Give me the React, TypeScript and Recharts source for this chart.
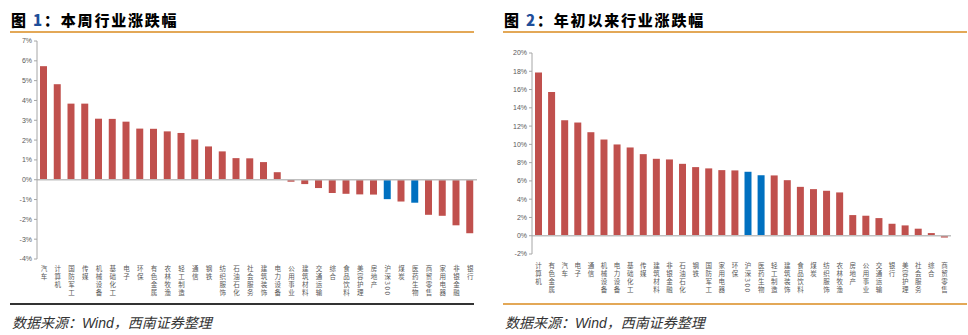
import React from 'react';
import { BarChart, Bar, XAxis, YAxis, Cell, ReferenceLine } from 'recharts';

const weekCategories = ['汽车','计算机','国防军工','传媒','机械设备','基础化工','电子','环保','有色金属','农林牧渔','轻工制造','通信','钢铁','纺织服饰','石油石化','社会服务','建筑装饰','电力设备','公用事业','建筑材料','交通运输','综合','食品饮料','美容护理','房地产','沪深300','煤炭','医药生物','商贸零售','家用电器','非银金融','银行'];
const weekValues = [5.73,4.82,3.84,3.84,3.08,3.07,2.93,2.58,2.57,2.44,2.36,2.03,1.68,1.43,1.09,1.08,0.89,0.38,-0.1,-0.22,-0.42,-0.67,-0.71,-0.74,-0.75,-0.98,-1.1,-1.16,-1.77,-1.82,-2.3,-2.7];
const weekTicks = [-4,-3,-2,-1,0,1,2,3,4,5,6,7];

const ytdCategories = ['计算机','有色金属','汽车','电子','通信','机械设备','电力设备','基础化工','传媒','建筑材料','非银金融','石油石化','钢铁','国防军工','家用电器','环保','沪深300','医药生物','轻工制造','建筑装饰','食品饮料','煤炭','纺织服饰','农林牧渔','房地产','公用事业','交通运输','银行','美容护理','社会服务','综合','商贸零售'];
const ytdValues = [17.86,15.74,12.64,12.39,11.33,10.53,9.99,9.66,8.93,8.42,8.35,7.87,7.51,7.37,7.18,7.15,7.0,6.62,6.6,6.08,5.35,5.1,4.92,4.74,2.26,2.19,1.93,1.31,1.13,0.77,0.29,-0.2];
const ytdTicks = [-2,0,2,4,6,8,10,12,14,16,18,20];

const highlighted = ['沪深300','医药生物'];

const RED = '#C0504D';
const BLUE = '#0070C0';
const ORANGE = '#E3A857';

const weekData = weekCategories.map((name, i) => ({ name, value: weekValues[i] }));
const ytdData = ytdCategories.map((name, i) => ({ name, value: ytdValues[i] }));

const makeTick = (offset: number) => (props: any) => {
  const { x, y, payload } = props;
  return (
    <text x={x} y={y + offset} fontSize={6.5} fill="#595959" letterSpacing={1.6}
      fontFamily="Noto Sans CJK SC, sans-serif"
      style={{ writingMode: 'vertical-rl' as any }}>{String(payload.value)}</text>
  );
};

const yTickStyle = { fontSize: 7, fill: '#595959', fontFamily: 'Liberation Sans, Arial, sans-serif' };

const titleStyle = (left: number): React.CSSProperties => ({
  position: 'absolute', left, top: 11, fontSize: 15, lineHeight: '18px', fontWeight: 900,
  fontFamily: '"Noto Sans CJK SC", sans-serif', letterSpacing: 1.8, color: '#000', whiteSpace: 'nowrap',
});

const footerStyle = (left: number): React.CSSProperties => ({
  position: 'absolute', left, top: 313, fontSize: 14, lineHeight: '18px', fontStyle: 'italic',
  fontFamily: '"Noto Sans CJK SC", sans-serif', color: '#333', whiteSpace: 'nowrap',
});

const Footer = ({ left }: { left: number }) => (
  <div style={footerStyle(left)}>
    数据来源：<span style={{ fontFamily: '"Liberation Sans", Arial, sans-serif' }}>Wind</span>，西南证券整理
  </div>
);

export default function App() {
  return (
    <div style={{ position: 'absolute', left: 0, top: 0, width: 968, height: 335, background: '#fff', overflow: 'hidden' }}>
      {/* Left chart */}
      <div style={titleStyle(11)}>图 <span style={{ color: '#1F4E99' }}>1</span>：本周行业涨跌幅</div>
      <div style={{ position: 'absolute', left: 10, top: 31, width: 464, height: 2, background: ORANGE }} />
      <div style={{ position: 'absolute', left: 0, top: 0 }}>
        <BarChart width={484} height={305} data={weekData} margin={{ top: 41, right: 7, bottom: 0, left: 7 }}>
          <YAxis type="number" domain={[-4, 7]} ticks={weekTicks} interval={0} width={30}
            tickFormatter={(v: number) => `${v}%`} tick={yTickStyle}
            axisLine={{ stroke: '#A6A6A6' }} tickLine={{ stroke: '#A6A6A6' }} tickSize={3} tickMargin={2} />
          <XAxis dataKey="name" interval={0} height={46} axisLine={false} tickLine={false}
            tickSize={0} tickMargin={0} tick={makeTick(6)} />
          <ReferenceLine y={0} stroke="#BFBFBF" strokeWidth={1.5} />
          <Bar dataKey="value" barSize={7} isAnimationActive={false}>
            {weekData.map((d, i) => (
              <Cell key={i} fill={highlighted.includes(d.name) ? BLUE : RED} />
            ))}
          </Bar>
        </BarChart>
      </div>
      <div style={{ position: 'absolute', left: 10, top: 303, width: 464, height: 2, background: '#333' }} />
      <Footer left={12} />

      {/* Right chart */}
      <div style={titleStyle(504)}>图 <span style={{ color: '#1F4E99' }}>2</span>：年初以来行业涨跌幅</div>
      <div style={{ position: 'absolute', left: 503, top: 31, width: 464, height: 2, background: ORANGE }} />
      <div style={{ position: 'absolute', left: 484, top: 0 }}>
        <BarChart width={484} height={305} data={ytdData} margin={{ top: 53, right: 17, bottom: 0, left: 18 }}>
          <YAxis type="number" domain={[-2, 20]} ticks={ytdTicks} interval={0} width={30}
            tickFormatter={(v: number) => `${v}%`} tick={yTickStyle}
            axisLine={{ stroke: '#A6A6A6' }} tickLine={{ stroke: '#A6A6A6' }} tickSize={3} tickMargin={2} />
          <XAxis dataKey="name" interval={0} height={51} axisLine={false} tickLine={false}
            tickSize={0} tickMargin={0} tick={makeTick(8)} />
          <ReferenceLine y={0} stroke="#BFBFBF" strokeWidth={1.5} />
          <Bar dataKey="value" barSize={7} isAnimationActive={false}>
            {ytdData.map((d, i) => (
              <Cell key={i} fill={highlighted.includes(d.name) ? BLUE : RED} />
            ))}
          </Bar>
        </BarChart>
      </div>
      <div style={{ position: 'absolute', left: 503, top: 303, width: 464, height: 2, background: ORANGE }} />
      <Footer left={505} />
    </div>
  );
}
